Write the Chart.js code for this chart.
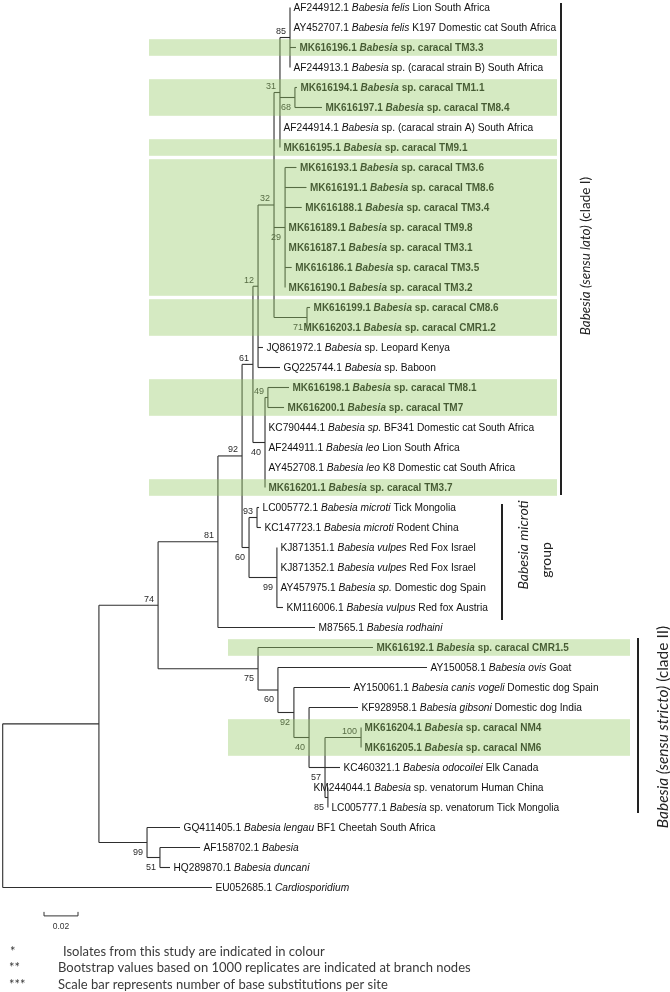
<!DOCTYPE html>
<html>
<head>
<meta charset="utf-8">
<script src="https://cdn.jsdelivr.net/npm/chart.js@4.4.0/dist/chart.umd.min.js"></script>
<style>
  html, body { margin: 0; padding: 0; background: #fff; }
  #wrap { width: 670px; height: 992px; }
</style>
</head>
<body>
<div id="wrap"><canvas id="myChart" width="670" height="992"></canvas></div>
<script>
// Leaf labels, top to bottom (text between _ _ is italic)
const leafNames = [
    'AF244912.1 _Babesia felis_ Lion South Africa',
    'AY452707.1 _Babesia felis_ K197 Domestic cat South Africa',
    'MK616196.1 _Babesia_ sp. caracal TM3.3',
    'AF244913.1 _Babesia_ sp. (caracal strain B) South Africa',
    'MK616194.1 _Babesia_ sp. caracal TM1.1',
    'MK616197.1 _Babesia_ sp. caracal TM8.4',
    'AF244914.1 _Babesia_ sp. (caracal strain A) South Africa',
    'MK616195.1 _Babesia_ sp. caracal TM9.1',
    'MK616193.1 _Babesia_ sp. caracal TM3.6',
    'MK616191.1 _Babesia_ sp. caracal TM8.6',
    'MK616188.1 _Babesia_ sp. caracal TM3.4',
    'MK616189.1 _Babesia_ sp. caracal TM9.8',
    'MK616187.1 _Babesia_ sp. caracal TM3.1',
    'MK616186.1 _Babesia_ sp. caracal TM3.5',
    'MK616190.1 _Babesia_ sp. caracal TM3.2',
    'MK616199.1 _Babesia_ sp. caracal CM8.6',
    'MK616203.1 _Babesia_ sp. caracal CMR1.2',
    'JQ861972.1 _Babesia_ sp. Leopard Kenya',
    'GQ225744.1 _Babesia_ sp. Baboon',
    'MK616198.1 _Babesia_ sp. caracal TM8.1',
    'MK616200.1 _Babesia_ sp. caracal TM7',
    'KC790444.1 _Babesia sp._ BF341 Domestic cat South Africa',
    'AF244911.1 _Babesia leo_ Lion South Africa',
    'AY452708.1 _Babesia leo_ K8 Domestic cat South Africa',
    'MK616201.1 _Babesia_ sp. caracal TM3.7',
    'LC005772.1 _Babesia microti_ Tick Mongolia',
    'KC147723.1 _Babesia microti_ Rodent China',
    'KJ871351.1 _Babesia vulpes_ Red Fox Israel',
    'KJ871352.1 _Babesia vulpes_ Red Fox Israel',
    'AY457975.1 _Babesia sp._ Domestic dog Spain',
    'KM116006.1 _Babesia vulpus_ Red fox Austria',
    'M87565.1 _Babesia rodhaini_',
    'MK616192.1 _Babesia_ sp. caracal CMR1.5',
    'AY150058.1 _Babesia ovis_ Goat',
    'AY150061.1 _Babesia canis vogeli_ Domestic dog Spain',
    'KF928958.1 _Babesia gibsoni_ Domestic dog India',
    'MK616204.1 _Babesia_ sp. caracal NM4',
    'MK616205.1 _Babesia_ sp. caracal NM6',
    'KC460321.1 _Babesia odocoilei_ Elk Canada',
    'KM244044.1 _Babesia_ sp. venatorum Human China',
    'LC005777.1 _Babesia_ sp. venatorum Tick Mongolia',
    'GQ411405.1 _Babesia lengau_ BF1 Cheetah South Africa',
    'AF158702.1 _Babesia_',
    'HQ289870.1 _Babesia duncani_',
    'EU052685.1 _Cardiosporidium_'
];

// Distance of each leaf tip from the root (substitutions per site)
const leafDepth = [
    0.1690, 0.1690, 0.1725, 0.1690, 0.1731, 0.1878, 0.1631, 0.1631,
    0.1728, 0.1787, 0.1759, 0.1661, 0.1661, 0.1700, 0.1661, 0.1808,
    0.1749, 0.1531, 0.1631, 0.1684, 0.1655, 0.1543, 0.1543, 0.1543,
    0.1543, 0.1508, 0.1519, 0.1613, 0.1613, 0.1613, 0.1649, 0.1837,
    0.2178, 0.2496, 0.2043, 0.2090, 0.2108, 0.2108, 0.1984, 0.1808,
    0.1913, 0.1043, 0.1161, 0.0984, 0.1231
];

// Isolates from this study (first and last leaf of each coloured block)
const ownGroups = [[2, 2], [4, 5], [7, 7], [8, 14], [15, 16], [19, 20], [24, 24], [32, 32], [36, 37]];

// Internal nodes: id, depth from root, children (L = leaf row), bootstrap
const nodeIds = ['root', 'nX', 'n74', 'n81', 'n92a', 'n61', 'n12', 'n32', 'n31', 'n85a', 'n68', 'n29', 'n71',
    'n40a', 'n49', 'n60a', 'n93', 'n99a', 'n75', 'n60b', 'n92b', 'n40b', 'n57', 'n100', 'n85b', 'n99b', 'n51'];
const nodeDepth = [0, 0.0566, 0.0914, 0.1266, 0.1408, 0.1472, 0.1502, 0.1596, 0.1631, 0.1690, 0.1719, 0.1661, 0.1790,
    0.1543, 0.1560, 0.1449, 0.1496, 0.1613, 0.1502, 0.1619, 0.1713, 0.1802, 0.1896, 0.2108, 0.1913, 0.0849, 0.0925];
const nodeChildren = [
    ['nX', 'L44'],
    ['n74', 'n99b'],
    ['n81', 'n75'],
    ['n92a', 'L31'],
    ['n61', 'n60a'],
    ['n12', 'n40a'],
    ['n32', 'L17', 'L18'],
    ['n31', 'n29', 'n71'],
    ['n85a', 'n68', 'L6', 'L7'],
    ['L0', 'L1', 'L2', 'L3'],
    ['L4', 'L5'],
    ['L8', 'L9', 'L10', 'L11', 'L12', 'L13', 'L14'],
    ['L15', 'L16'],
    ['n49', 'L21', 'L22', 'L23', 'L24'],
    ['L19', 'L20'],
    ['n93', 'n99a'],
    ['L25', 'L26'],
    ['L27', 'L28', 'L29', 'L30'],
    ['L32', 'n60b'],
    ['L33', 'n92b'],
    ['L34', 'n40b'],
    ['L35', 'n57'],
    ['n100', 'L38', 'n85b'],
    ['L36', 'L37'],
    ['L39', 'L40'],
    ['L41', 'n51'],
    ['L42', 'L43']
];
const nodeSupport = [null, null, 74, 81, 92, 61, 12, 32, 31, 85, 68, 29, 71,
    40, 49, 60, 93, 99, 75, 60, 92, 40, 57, 100, 85, 99, 51];

const scaleBarLength = 0.02;

// ---- layout helpers ----
const supportBelow = ['n68', 'n29', 'n71', 'n40a', 'n60a', 'n99a', 'n75', 'n60b', 'n92b', 'n40b', 'n57', 'n85b', 'n99b', 'n51'];

const nodes = {};
nodeIds.forEach((id, i) => {
    nodes[id] = { depth: nodeDepth[i], children: nodeChildren[i], support: nodeSupport[i] };
});

function isLeaf(ref) { return ref[0] === 'L'; }
function rowOf(ref) {
    if (isLeaf(ref)) return +ref.slice(1);
    const n = nodes[ref];
    if (n.row === undefined) {
        n.row = (rowOf(n.children[0]) + rowOf(n.children[n.children.length - 1])) / 2;
    }
    return n.row;
}
function depthOf(ref) { return isLeaf(ref) ? leafDepth[+ref.slice(1)] : nodes[ref].depth; }
function isOwn(i) { return ownGroups.some(g => i >= g[0] && i <= g[1]); }

// Build the branch segments
const segments = [];
nodeIds.forEach(id => {
    const n = nodes[id];
    const rows = n.children.map(rowOf);
    segments.push([{ x: n.depth, y: rows[0] }, { x: n.depth, y: rows[rows.length - 1] }]);
    n.children.forEach((c, k) => {
        const d = depthOf(c);
        if (d > n.depth) segments.push([{ x: n.depth, y: rows[k] }, { x: d, y: rows[k] }]);
    });
});

const LABEL_FONT = '"Liberation Sans", Arial, sans-serif';
const SIDE_FONT = 'Lato, "Open Sans", sans-serif';

function drawRich(ctx, text, px, py, bold, size) {
    const parts = text.split('_');
    let cx = px;
    parts.forEach((p, k) => {
        if (!p) return;
        const italic = k % 2 === 1;
        ctx.font = (italic ? 'italic ' : '') + (bold ? 'bold ' : '') + size + 'px ' + LABEL_FONT;
        ctx.fillText(p, cx, py);
        cx += ctx.measureText(p).width;
    });
}

function drawRotated(ctx, parts, cx, cy, size) {
    ctx.save();
    ctx.translate(cx, cy);
    ctx.rotate(-Math.PI / 2);
    let total = 0;
    parts.forEach(p => {
        ctx.font = (p[1] ? 'italic ' : '') + size + 'px ' + SIDE_FONT;
        total += ctx.measureText(p[0]).width;
    });
    let x0 = -total / 2;
    ctx.textBaseline = 'middle';
    ctx.textAlign = 'left';
    parts.forEach(p => {
        ctx.font = (p[1] ? 'italic ' : '') + size + 'px ' + SIDE_FONT;
        ctx.fillText(p[0], x0, 0);
        x0 += ctx.measureText(p[0]).width;
    });
    ctx.restore();
}

const treeText = {
    id: 'treeText',
    afterDatasetsDraw(chart) {
        const { ctx, scales: { x, y } } = chart;
        ctx.save();
        ctx.textBaseline = 'middle';
        ctx.textAlign = 'left';

        // leaf labels
        ctx.fillStyle = '#111';
        leafNames.forEach((name, i) => {
            const own = isOwn(i);
            drawRich(ctx, name, x.getPixelForValue(leafDepth[i]) + 3.5, y.getPixelForValue(i) + 0.5, own, own ? 10 : 10.2);
        });

        // bootstrap values
        ctx.fillStyle = '#2a2a2a';
        ctx.textAlign = 'right';
        ctx.font = '9px ' + LABEL_FONT;
        nodeIds.forEach(id => {
            const n = nodes[id];
            if (n.support === null) return;
            const px = x.getPixelForValue(n.depth) - 4;
            const py = y.getPixelForValue(n.row) + (supportBelow.includes(id) ? 10 : -6);
            ctx.fillText(String(n.support), px, py);
        });

        // coloured blocks for the isolates of this study
        ctx.fillStyle = 'rgba(150, 202, 102, 0.4)';
        ownGroups.forEach(g => {
            const top = y.getPixelForValue(g[0] - 0.415);
            const bottom = y.getPixelForValue(g[1] + 0.415);
            const left = g[0] < 31 ? 149 : 228;
            const right = g[0] < 31 ? 557 : 630;
            ctx.fillRect(left, top, right - left, bottom - top);
        });

        // clade bars
        ctx.fillStyle = '#222';
        [[561, -0.225, 24.375], [502, 24.825, 30.625], [638, 31.525, 40.275]].forEach(b => {
            const top = y.getPixelForValue(b[1]);
            const bottom = y.getPixelForValue(b[2]);
            ctx.fillRect(b[0] - 1, top, 2, bottom - top);
        });
        ctx.fillStyle = '#222';
        drawRotated(ctx, [['Babesia (sensu lato)', true], [' (clade I)', false]], 586, 256, 13.5);
        drawRotated(ctx, [['Babesia microti', true]], 523, 545, 14);
        drawRotated(ctx, [['group', false]], 546, 560, 14);
        drawRotated(ctx, [['Babesia (sensu stricto)', true], [' (clade II)', false]], 663, 727, 15.5);

        // scale bar
        const sx0 = x.getPixelForValue(0.0243);
        const sx1 = x.getPixelForValue(0.0243 + scaleBarLength);
        const sy = y.getPixelForValue(45.42);
        ctx.strokeStyle = '#333';
        ctx.lineWidth = 1;
        ctx.beginPath();
        ctx.moveTo(sx0, sy); ctx.lineTo(sx1, sy);
        ctx.moveTo(sx0, sy - 4); ctx.lineTo(sx0, sy);
        ctx.moveTo(sx1, sy - 4); ctx.lineTo(sx1, sy);
        ctx.stroke();
        ctx.fillStyle = '#333';
        ctx.textAlign = 'center';
        ctx.font = '8.5px ' + LABEL_FONT;
        ctx.fillText(String(scaleBarLength), (sx0 + sx1) / 2, sy + 11);

        // footnotes
        ctx.textAlign = 'left';
        ctx.fillStyle = '#3a3a3a';
        ctx.font = '13px ' + SIDE_FONT;
        ctx.fillText('*', 10, 952);
        ctx.fillText('Isolates from this study are indicated in colour', 63, 952);
        ctx.fillText('**', 9, 968);
        ctx.fillText('Bootstrap values based on 1000 replicates are indicated at branch nodes', 58, 968);
        ctx.fillText('***', 9, 985);
        ctx.fillText('Scale bar represents number of base substitutions per site', 58, 985);

        ctx.restore();
    }
};

function createTree() {
    const ctx = document.getElementById('myChart').getContext('2d');
    new Chart(ctx, {
        type: 'scatter',
        data: {
            datasets: segments.map(seg => ({
                data: seg,
                showLine: true,
                borderColor: '#2e2e2e',
                borderWidth: 1.1,
                pointRadius: 0,
                fill: false
            }))
        },
        options: {
            responsive: false,
            animation: false,
            events: [],
            layout: { padding: 0 },
            plugins: {
                legend: { display: false },
                tooltip: { enabled: false }
            },
            scales: {
                x: { type: 'linear', display: false, min: -2.7 / 1700, max: 667.3 / 1700 },
                y: { type: 'linear', display: false, reverse: true, min: -0.375, max: 49.225 }
            }
        },
        plugins: [treeText]
    });
}

createTree();
</script>
</body>
</html>
